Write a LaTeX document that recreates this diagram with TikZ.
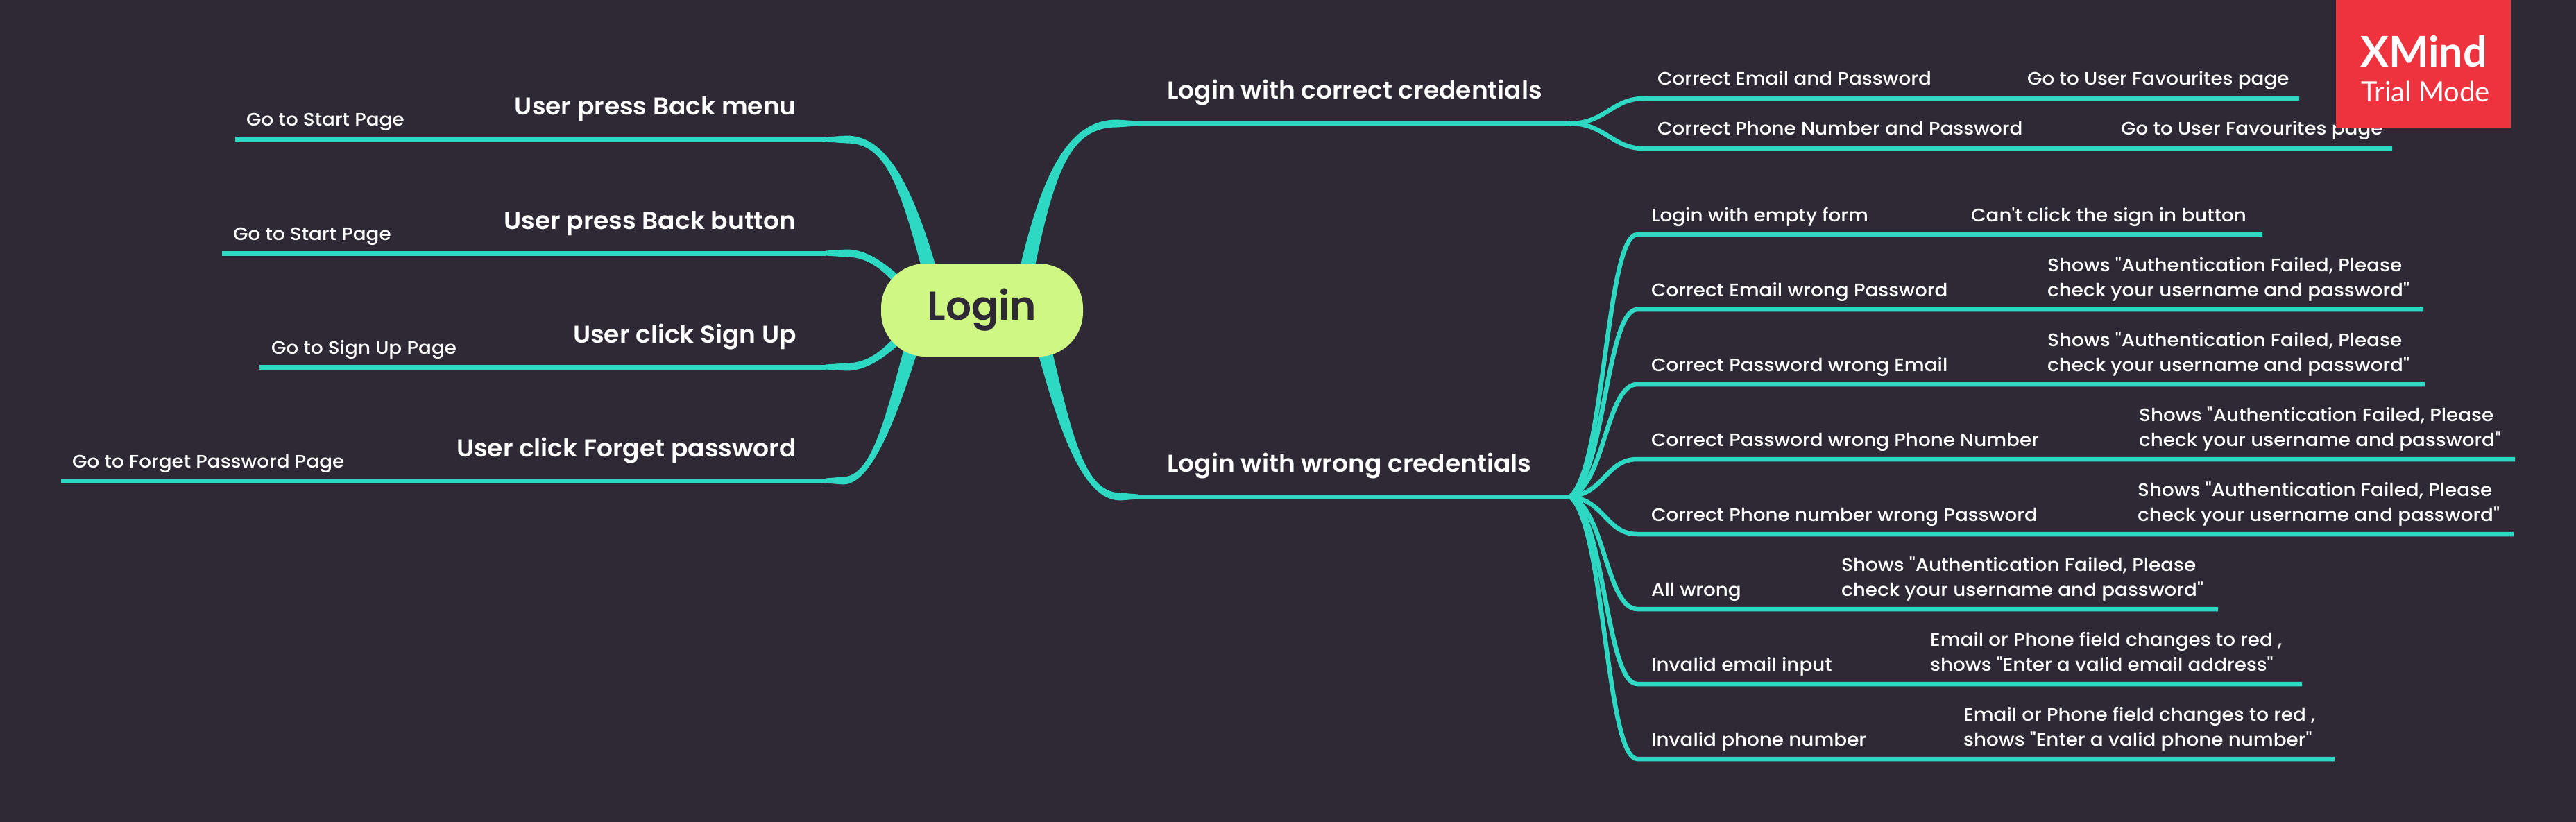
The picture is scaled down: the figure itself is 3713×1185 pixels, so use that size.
\documentclass[tikz,border=0pt]{standalone}
\usepackage{graphicx}
\usepackage{fontspec}
\setmainfont{Poppins}
\newfontfamily\medfont{Poppins Medium}[FakeStretch=1.07]
\newfontfamily\semifont{Poppins SemiBold}[FakeStretch=1.03]
\newfontfamily\rootfont{Poppins SemiBold}
\newfontfamily\logofont{Lato}
\definecolor{bgdark}{RGB}{47,41,53}
\definecolor{teal}{RGB}{46,217,195}
\definecolor{lime}{RGB}{207,247,132}
\definecolor{logored}{RGB}{238,51,63}
\tikzset{
  x=1pt,y=-1pt,
  leaftext/.style={anchor=base west,inner sep=0pt,text=white,align=left,font=\medfont\fontsize{26}{36}\selectfont},
  lefttitle/.style={anchor=base east,inner sep=0pt,text=white,font=\semifont\fontsize{35}{40}\selectfont},
  righttitle/.style={anchor=base west,inner sep=0pt,text=white,font=\semifont\fontsize{35}{40}\selectfont},
  twig/.style={draw=teal,line width=6.5pt,line cap=butt},
  limb/.style={fill=teal,draw=none},
  limbline/.style={draw=teal,line width=7pt},
}
% id, hub, y, x1, text1, x2, text2, xend, control dy
\newcommand\rightrow[9]{%
  \coordinate (#1e) at (#4-20,#3);
  \coordinate (#1f) at (#8,#3);
  \draw[twig] (#2) .. controls +(50,#9) and +(-45,0) .. (#1e) -- (#1f);
  \node[leaftext] (#1a) at (#4,#3-19) {#5};
  \node[leaftext] (#1b) at (#6,#3-19) {#7};
}
% start, c1 offset, c2 offset, elbow, join, side (1 or -1)
\newcommand\limbshape[6]{%
  \fill[limb] ([xshift=-11pt]#1) .. controls +(#2) and +(#3) .. ([yshift=#6*5.5pt]#4)
     -- ([yshift=#6*3.5pt]#5) -- ([yshift=-#6*3.5pt]#5) -- ([yshift=-#6*5.5pt]#4)
     .. controls +(#3) and +(#2) .. ([xshift=11pt]#1) -- cycle;
}
\begin{document}
\begin{tikzpicture}
\fill[bgdark] (0,0) rectangle (3713,1185);
\useasboundingbox (0,0) rectangle (3713,1185);
% anchors
\coordinate (sA) at (1468,447); \coordinate (eA) at (1610,178); \coordinate (jA) at (1640,178); \coordinate (hubA) at (2263,178);
\coordinate (sB) at (1491,447); \coordinate (eB) at (1615,716); \coordinate (jB) at (1640,716); \coordinate (hubB) at (2263,716);
\coordinate (sC) at (1355,447); \coordinate (eC) at (1220,201); \coordinate (jC) at (1190,201); \coordinate (fC) at (339,201);
\coordinate (sD) at (1340,447); \coordinate (eD) at (1220,365); \coordinate (jD) at (1190,365); \coordinate (fD) at (320,365);
\coordinate (sE) at (1340,447); \coordinate (eE) at (1220,529); \coordinate (jE) at (1190,529); \coordinate (fE) at (374,529);
\coordinate (sF) at (1330,447); \coordinate (eF) at (1215,693); \coordinate (jF) at (1190,693); \coordinate (fF) at (88,693);
% limbs
\limbshape{sA}{37,-187}{-75,0}{eA}{jA}{1}
\draw[limbline] (jA) -- (hubA);
\limbshape{sB}{39,153}{-60,0}{eB}{jB}{-1}
\draw[limbline] (jB) -- (hubB);
\limbshape{sC}{-45,-177}{60,0}{eC}{jC}{-1}
\draw[limbline] (jC) -- (fC);
\limbshape{sD}{-30,-17}{55,0}{eD}{jD}{-1}
\draw[limbline] (jD) -- (fD);
\limbshape{sE}{-30,17}{55,0}{eE}{jE}{1}
\draw[limbline] (jE) -- (fE);
\limbshape{sF}{-35,113}{50,0}{eF}{jF}{1}
\draw[limbline] (jF) -- (fF);
% right rows
\rightrow{a}{hubA}{142}{2389}{Correct Email and Password}{2922}{Go to User Favourites page}{3314}{0}
\rightrow{b}{hubA}{214}{2389}{Correct Phone Number and Password}{3057}{Go to User Favourites page}{3448}{0}
\rightrow{c}{hubB}{338}{2380}{Login with empty form}{2841}{Can't click the sign in button}{3261}{-38}
\rightrow{d}{hubB}{446}{2380}{Correct Email wrong Password}{2951}{Shows "Authentication Failed, Please\\check your username and password"}{3493}{-27}
\rightrow{e}{hubB}{554}{2380}{Correct Password wrong Email}{2951}{Shows "Authentication Failed, Please\\check your username and password"}{3495}{-16}
\rightrow{f}{hubB}{662}{2380}{Correct Password wrong Phone Number}{3083}{Shows "Authentication Failed, Please\\check your username and password"}{3625}{-5}
\rightrow{g}{hubB}{770}{2380}{Correct Phone number wrong Password}{3081}{Shows "Authentication Failed, Please\\check your username and password"}{3623}{5}
\rightrow{h}{hubB}{878}{2380}{All wrong}{2654}{Shows "Authentication Failed, Please\\check your username and password"}{3197}{16}
\rightrow{i}{hubB}{986}{2380}{Invalid email input}{2782}{Email or Phone field changes to red ,\\shows "Enter a valid email address"}{3318}{27}
\rightrow{j}{hubB}{1094}{2380}{Invalid phone number}{2830}{Email or Phone field changes to red ,\\shows "Enter a valid phone number"}{3365}{38}
% root
\node[fill=lime,rounded corners=64pt,minimum width=291pt,minimum height=134pt,inner sep=0pt,text=bgdark,font=\rootfont\fontsize{58}{60}\selectfont] (root) at (1415.5,447) {\raisebox{-3pt}{Login}};
% titles
\node[righttitle] (tA) at (1682,143) {Login with correct credentials};
\node[righttitle] (tB) at (1682,680) {Login with wrong credentials};
\node[lefttitle] (tC) at (1148,166) {User press Back menu};
\node[lefttitle] (tD) at (1148,330) {User press Back button};
\node[lefttitle] (tE) at (1148,494) {User click Sign Up};
\node[lefttitle] (tF) at (1148,658) {User click Forget password};
\node[leaftext] (lC) at (355,182) {Go to Start Page};
\node[leaftext] (lD) at (336,346) {Go to Start Page};
\node[leaftext] (lE) at (391,510) {Go to Sign Up Page};
\node[leaftext] (lF) at (104,674) {Go to Forget Password Page};
% logo
\fill[logored,rounded corners=2pt] (3367,-5) rectangle (3619,185);
\node[anchor=base west,inner sep=0pt,text=white,font=\logofont\bfseries\fontsize{61}{64}\selectfont] (xm) at (3402,97) {XMind};
\node[anchor=base west,inner sep=0pt,text=white,font=\logofont\fontsize{40}{44}\selectfont] (tm) at (3403,147) {Trial Mode};
\end{tikzpicture}
\end{document}
